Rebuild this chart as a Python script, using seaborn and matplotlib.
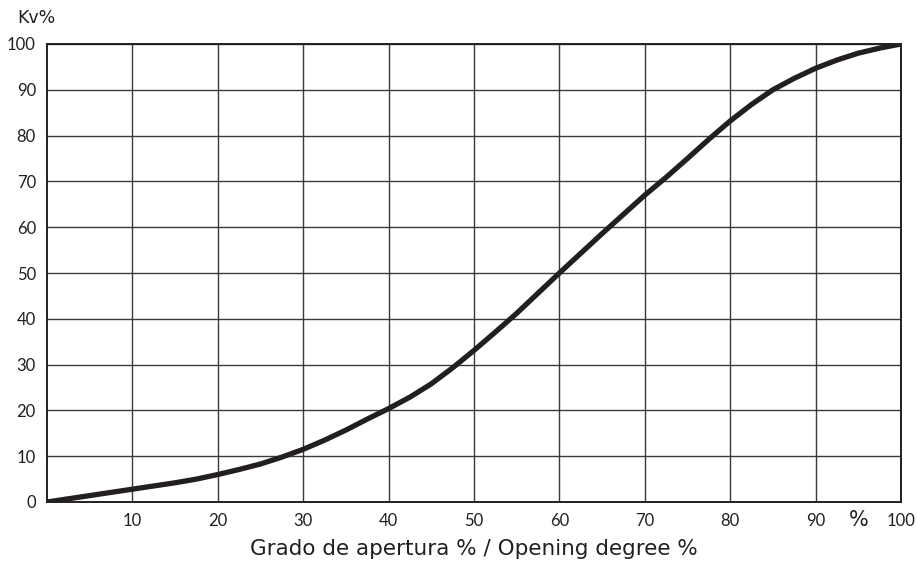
import matplotlib
matplotlib.use("Agg")
import matplotlib.pyplot as plt
import seaborn as sns
import pandas as pd

opening = [0, 2.5, 5, 7.5, 10, 12.5, 15, 17.5, 20, 22.5, 25, 27.5, 30, 32.5, 35, 37.5, 40,
           42.5, 45, 47.5, 50, 52.5, 55, 57.5, 60, 62.5, 65, 67.5, 70, 72.5, 75, 77.5, 80,
           82.5, 85, 87.5, 90, 92.5, 95, 97.5, 100]
kv = [0, 0.7, 1.4, 2.1, 2.8, 3.5, 4.2, 5.0, 6.0, 7.1, 8.3, 9.8, 11.5, 13.5, 15.7, 18.1, 20.4,
      22.9, 25.8, 29.3, 33.1, 37.1, 41.2, 45.6, 50.0, 54.3, 58.6, 62.8, 67.0, 70.9, 75.0, 79.2, 83.2,
      86.8, 90.0, 92.5, 94.7, 96.5, 98.0, 99.1, 100]
x_ticks = [10, 20, 30, 40, 50, 60, 70, 80, 90, 100]
y_ticks = [0, 10, 20, 30, 40, 50, 60, 70, 80, 90, 100]

sns.set_style("white")
plt.rcParams['font.family'] = ['Lato', 'DejaVu Sans']

df = pd.DataFrame({"opening": opening, "kv": kv})

fig = plt.figure(figsize=(9.17, 5.65), dpi=100)
ax = fig.add_axes([47/917, 1 - 502/565, (901 - 47)/917, (502 - 44)/565])

sns.lineplot(data=df, x="opening", y="kv", ax=ax, color="#231f20", linewidth=3.8,
             solid_capstyle="butt", solid_joinstyle="round", zorder=5)

ax.set_xlim(0, 100)
ax.set_ylim(0, 100)
ax.set_xticks(x_ticks)
ax.set_xticklabels([str(t) for t in x_ticks])
ax.set_xticks([95], minor=True)
ax.set_xticklabels(["%"], minor=True, fontsize=15, family=["DejaVu Sans"])
ax.set_yticks(y_ticks)
ax.set_yticklabels([str(t) for t in y_ticks])
ax.tick_params(axis="both", which="both", length=0, labelsize=12, colors="#231f20")
ax.tick_params(axis="x", which="major", pad=8)
ax.tick_params(axis="x", which="minor", pad=6, labelsize=15)
ax.tick_params(axis="y", pad=8)

ax.grid(True, which="major", color="#3a3a3a", linewidth=1.0)
ax.set_axisbelow(True)
for s in ax.spines.values():
    s.set_color("#231f20")
    s.set_linewidth(1.4)
    s.set_visible(True)

ax.set_xlabel("Grado de apertura % / Opening degree %", fontsize=15.5, color="#231f20",
              labelpad=6, family=["DejaVu Sans"])
ax.set_ylabel("")
fig.text(17/917, 1 - 18/565, "Kv%", fontsize=12.5, color="#231f20", ha="left", va="center",
         family=["DejaVu Sans"])

fig.savefig("out.png", dpi=100, facecolor="white")
